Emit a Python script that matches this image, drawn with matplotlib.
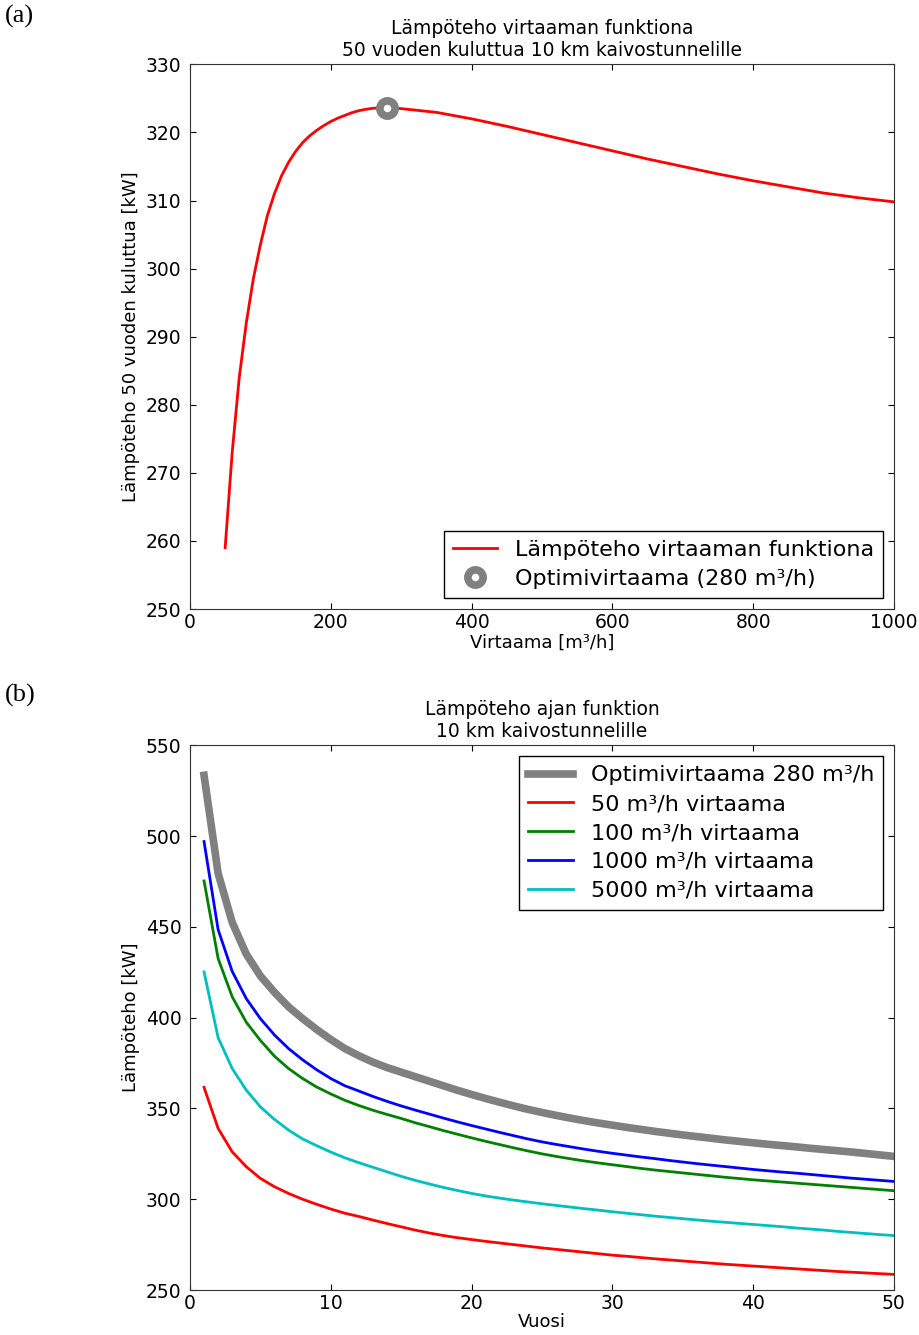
import matplotlib
matplotlib.use("Agg")
import matplotlib.pyplot as plt

# (a) lämpöteho virtaaman funktiona
virtaama = [50, 60, 70, 80, 90, 100, 110, 120, 130, 140, 150, 160, 170, 180, 190,
            200, 210, 220, 230, 240, 250, 260, 270, 280, 290, 300, 350, 400, 450,
            500, 550, 600, 650, 700, 750, 800, 850, 900, 950, 1000]
teho_50v = [259.0, 273.0, 284.0, 292.0, 298.5, 303.5, 307.8, 311.0, 313.6, 315.6,
            317.2, 318.5, 319.5, 320.3, 321.0, 321.6, 322.1, 322.5, 322.9, 323.2,
            323.4, 323.55, 323.6, 323.6, 323.55, 323.5, 322.95, 322.0, 320.9, 319.7,
            318.5, 317.3, 316.1, 315.0, 313.9, 312.9, 312.0, 311.1, 310.4, 309.8]
opt_virtaama = 280
opt_teho = 323.6

# (b) lämpöteho ajan funktiona
vuodet = list(range(1, 51))
teho_opt = [533.5, 479.5, 452.5, 435.0, 423.0, 414.0, 406.0, 399.5, 393.5, 388.0,
            383.0, 379.0, 375.5, 372.5, 370.0, 367.5, 365.0, 362.5, 360.0, 357.7,
            355.5, 353.4, 351.4, 349.5, 347.8, 346.2, 344.7, 343.3, 342.0, 340.8,
            339.6, 338.5, 337.4, 336.4, 335.4, 334.5, 333.6, 332.7, 331.9, 331.1,
            330.3, 329.6, 328.9, 328.1, 327.4, 326.7, 326.0, 325.2, 324.4, 323.6]
teho_50 = [361.6, 339.0, 326.1, 317.9, 311.5, 306.9, 303.2, 300.0, 297.2, 294.6,
           292.3, 290.5, 288.5, 286.6, 284.8, 283.0, 281.4, 280.0, 278.8, 277.8,
           276.8, 275.9, 275.0, 274.1, 273.2, 272.4, 271.6, 270.8, 270.0, 269.2,
           268.6, 267.9, 267.2, 266.6, 266.0, 265.4, 264.8, 264.2, 263.7, 263.2,
           262.7, 262.2, 261.7, 261.2, 260.7, 260.2, 259.8, 259.4, 259.0, 258.6]
teho_100 = [475.3, 432.6, 411.5, 397.5, 387.5, 378.8, 372.0, 366.5, 361.8, 358.0,
            354.5, 351.6, 349.0, 346.7, 344.5, 342.1, 340.0, 337.8, 335.8, 333.8,
            331.9, 330.1, 328.3, 326.6, 325.0, 323.6, 322.3, 321.1, 320.0, 319.0,
            318.0, 317.0, 316.1, 315.3, 314.5, 313.7, 312.9, 312.1, 311.4, 310.7,
            310.1, 309.5, 308.9, 308.3, 307.7, 307.1, 306.5, 305.9, 305.3, 304.7]
teho_1000 = [497.0, 448.5, 425.5, 410.5, 399.5, 390.5, 383.0, 376.8, 371.3, 366.5,
             362.5, 359.6, 356.6, 353.9, 351.4, 349.1, 346.9, 344.7, 342.6, 340.6,
             338.7, 336.8, 335.0, 333.2, 331.6, 330.2, 328.9, 327.6, 326.4, 325.3,
             324.3, 323.3, 322.4, 321.4, 320.5, 319.6, 318.8, 318.0, 317.2, 316.4,
             315.7, 315.0, 314.4, 313.7, 313.0, 312.3, 311.6, 311.0, 310.4, 309.8]
teho_5000 = [425.2, 389.0, 372.0, 360.1, 350.9, 344.0, 338.1, 333.2, 329.5, 326.0,
             322.8, 320.1, 317.6, 315.1, 312.6, 310.4, 308.4, 306.5, 304.8, 303.2,
             301.8, 300.6, 299.5, 298.5, 297.5, 296.6, 295.7, 294.8, 294.0, 293.1,
             292.3, 291.5, 290.7, 290.0, 289.3, 288.6, 287.9, 287.3, 286.7, 286.1,
             285.5, 284.9, 284.2, 283.6, 283.0, 282.3, 281.7, 281.1, 280.5, 280.0]

plt.rcParams['font.family'] = ['DejaVu Sans']
plt.rcParams['font.size'] = 13

fig = plt.figure(figsize=(9.19, 13.35), dpi=100)
ax1 = fig.add_axes([0.2067, 0.5438, 0.766, 0.408])
ax2 = fig.add_axes([0.2067, 0.0337, 0.766, 0.408])

# --- (a)
ax1.plot(virtaama, teho_50v, color='red', lw=2, label='Lämpöteho virtaaman funktiona')
ax1.plot([opt_virtaama], [opt_teho], 'o', ms=11, mfc='white', mec='gray', mew=5.5,
         label='Optimivirtaama (280 m³/h)')
ax1.set_xlim(0, 1000)
ax1.set_ylim(250, 330)
ax1.set_xlabel('Virtaama [m³/h]', labelpad=1)
ax1.set_ylabel('Lämpöteho 50 vuoden kuluttua [kW]')
ax1.set_title('Lämpöteho virtaaman funktiona\n50 vuoden kuluttua 10 km kaivostunnelille',
              fontsize=13.5, pad=6)
ax1.legend(loc='lower right', fancybox=False, edgecolor='black', framealpha=1,
           fontsize=16, borderaxespad=0.5, labelspacing=0.4)

# --- (b)
ax2.plot(vuodet, teho_opt, color='gray', lw=5.5, label='Optimivirtaama 280 m³/h')
ax2.plot(vuodet, teho_50, color='red', lw=2, label='50 m³/h virtaama')
ax2.plot(vuodet, teho_100, color='green', lw=2, label='100 m³/h virtaama')
ax2.plot(vuodet, teho_1000, color='blue', lw=2, label='1000 m³/h virtaama')
ax2.plot(vuodet, teho_5000, color='c', lw=2, label='5000 m³/h virtaama')
ax2.set_xlim(0, 50)
ax2.set_ylim(250, 550)
ax2.set_xlabel('Vuosi', labelpad=0)
ax2.set_ylabel('Lämpöteho [kW]')
ax2.set_title('Lämpöteho ajan funktion\n10 km kaivostunnelille', fontsize=13.5, pad=6)
ax2.legend(loc='upper right', fancybox=False, edgecolor='black', framealpha=1,
           fontsize=16, borderaxespad=0.5, labelspacing=0.4)

for ax in (ax1, ax2):
    ax.tick_params(direction='in', top=True, right=True, length=4, labelsize=13.5)
    ax.tick_params(axis='y', pad=6)
    ax.tick_params(axis='x', pad=3)
    for s in ax.spines.values():
        s.set_color('#333333')

fig.text(0.005, 0.988, '(a)', family='Liberation Serif', fontsize=19, va='center')
fig.text(0.005, 0.479, '(b)', family='Liberation Serif', fontsize=19, va='center')

fig.savefig('out.png', dpi=100)
